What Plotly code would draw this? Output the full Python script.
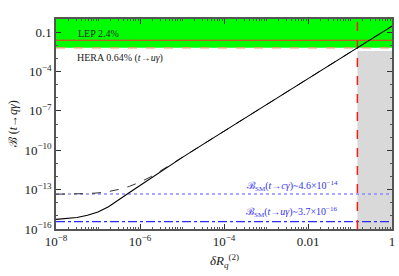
import plotly.graph_objects as go

# ---- data ----
delta_R = [1e-8, 1.78e-8, 3.16e-8, 5.62e-8, 1e-7, 1.78e-7, 3.16e-7, 5.62e-7, 1e-6,
           1.78e-6, 3.16e-6, 5.62e-6, 1e-5, 3.16e-5, 1e-4, 1e-3, 1e-2, 1e-1, 1.0]
B_u = [5.37e-16, 6.17e-16, 7.59e-16, 1.12e-15, 2.0e-15, 4.9e-15, 1.6e-14, 6.03e-14,
       2.09e-13, 7.24e-13, 2.51e-12, 8.32e-12, 2.75e-11, 2.82e-10, 2.82e-9, 2.82e-7,
       2.88e-5, 2.88e-3, 0.288]
B_c = [4.47e-14, 4.57e-14, 4.68e-14, 5.01e-14, 5.62e-14, 7.08e-14, 1.05e-13, 1.78e-13,
       3.72e-13, 9.33e-13, 2.82e-12, 8.51e-12, 2.82e-11, 2.82e-10, 2.82e-9, 2.82e-7,
       2.88e-5, 2.88e-3, 0.288]

x_range = [1e-8, 1.0]
y_range = [1e-16, 1.0]
LEP_limit = 0.024
HERA_limit = 0.0064
SM_c = 4.6e-14
SM_u = 3.7e-16
dR_bound = 0.15
gray_top = 3.7e-3

x_tickvals = [1e-8, 1e-6, 1e-4, 1e-2, 1.0]
x_ticktext = ["10<sup>−8</sup>", "10<sup>−6</sup>", "10<sup>−4</sup>", "0.01", "1"]
y_tickvals = [1e-1, 1e-4, 1e-7, 1e-10, 1e-13, 1e-16]
y_ticktext = ["0.1", "10<sup>−4</sup>", "10<sup>−7</sup>", "10<sup>−10</sup>",
              "10<sup>−13</sup>", "10<sup>−16</sup>"]

x_minor = [m * 10.0 ** k for k in range(-8, 0) for m in range(2, 10)] + [1e-7, 1e-5, 1e-3, 1e-1]
y_minor = [10.0 ** k for k in range(-16, 1)]

FONT = "Liberation Serif, Times New Roman, serif"

fig = go.Figure()

# green excluded band (HERA .. top)
fig.add_trace(go.Scatter(
    x=[x_range[0], x_range[1], x_range[1], x_range[0]],
    y=[HERA_limit, HERA_limit, y_range[1], y_range[1]],
    fill="toself", fillcolor="#00ff00", line=dict(width=0), mode="lines",
    hoverinfo="skip", showlegend=False))

# gray region
fig.add_trace(go.Scatter(
    x=[dR_bound, x_range[1], x_range[1], dR_bound],
    y=[y_range[0], y_range[0], gray_top, gray_top],
    fill="toself", fillcolor="#d9d9d9", line=dict(width=0), mode="lines",
    hoverinfo="skip", showlegend=False))

# LEP line
fig.add_trace(go.Scatter(x=x_range, y=[LEP_limit, LEP_limit], mode="lines",
                         line=dict(color="#ff2a2a", width=1.2), showlegend=False))
# HERA dashed line
fig.add_trace(go.Scatter(x=x_range, y=[HERA_limit, HERA_limit], mode="lines",
                         line=dict(color="#f09a6a", width=1.3, dash="dash"), showlegend=False))
# SM lines
fig.add_trace(go.Scatter(x=x_range, y=[SM_c, SM_c], mode="lines",
                         line=dict(color="#8c8cff", width=1.5, dash="dot"), showlegend=False))
fig.add_trace(go.Scatter(x=x_range, y=[SM_u, SM_u], mode="lines",
                         line=dict(color="#2b2bff", width=1.2, dash="dashdot"), showlegend=False))
# vertical bound
fig.add_trace(go.Scatter(x=[dR_bound, dR_bound], y=y_range, mode="lines",
                         line=dict(color="#ff1a1a", width=1.5, dash="dash"), showlegend=False))

# curves
fig.add_trace(go.Scatter(x=delta_R, y=B_c, mode="lines",
                         line=dict(color="#333333", width=1, dash="dash"),
                         showlegend=False))
fig.add_trace(go.Scatter(x=delta_R, y=B_u, mode="lines",
                         line=dict(color="#000000", width=1.1),
                         showlegend=False))

axis_common = dict(
    type="log", showgrid=False, zeroline=False,
    showline=True, linecolor="#555555", linewidth=1.5, mirror="allticks",
    ticks="inside", ticklen=5, tickwidth=1, tickcolor="#333333",
    tickfont=dict(family=FONT, size=13, color="#222222"),
    tickmode="array", ticklabeloverflow="allow",
)

fig.update_xaxes(**axis_common, range=[-8, 0], tickvals=x_tickvals, ticktext=x_ticktext,
                 minor=dict(tickmode="array", tickvals=x_minor, ticks="inside",
                            ticklen=2.5, tickcolor="#555555", tickwidth=0.8))
fig.update_yaxes(**axis_common, range=[-16, 0], tickvals=y_tickvals, ticktext=y_ticktext,
                 minor=dict(tickmode="array", tickvals=y_minor, ticks="inside",
                            ticklen=2.5, tickcolor="#555555", tickwidth=0.8))

ann_font = dict(family=FONT, size=10, color="#222222")
blue_font = dict(family=FONT, size=10, color="#3333ee")
fig.update_layout(
    width=399, height=276,
    margin=dict(l=56, r=4, t=19, b=47),
    paper_bgcolor="white", plot_bgcolor="white",
    annotations=[
        dict(text="LEP 2.4%", x=0.061, y=0.929, xref="paper", yref="paper",
             xanchor="left", yanchor="middle", showarrow=False, font=ann_font),
        dict(text="HERA 0.64% (<i>t</i>→<i>uγ</i>)", x=0.056, y=0.814, xref="paper", yref="paper",
             xanchor="left", yanchor="middle", showarrow=False, font=ann_font),
        dict(text="ℬ<sub>SM</sub>(<i>t</i>→<i>cγ</i>)~4.6×10<sup>−14</sup>", x=0.846, y=0.205,
             xref="paper", yref="paper", xanchor="right", yanchor="middle",
             showarrow=False, font=blue_font),
        dict(text="ℬ<sub>SM</sub>(<i>t</i>→<i>uγ</i>)~3.7×10<sup>−16</sup>", x=0.846, y=0.079,
             xref="paper", yref="paper", xanchor="right", yanchor="middle",
             showarrow=False, font=blue_font),
        dict(text="<i>δR</i><sub><i>q</i></sub><sup>(2)</sup>", x=0.5, y=-0.15,
             xref="paper", yref="paper", xanchor="center", yanchor="middle",
             showarrow=False, font=dict(family=FONT, size=13, color="#222222")),
        dict(text="ℬ (<i>t</i>→<i>qγ</i>)", x=-0.127, y=0.5, textangle=-90,
             xref="paper", yref="paper", xanchor="center", yanchor="middle",
             showarrow=False, font=dict(family=FONT, size=12, color="#222222")),
    ],
)

fig.write_html("out.html", config={"displayModeBar": False},
               post_script="document.body.style.margin='0';")
